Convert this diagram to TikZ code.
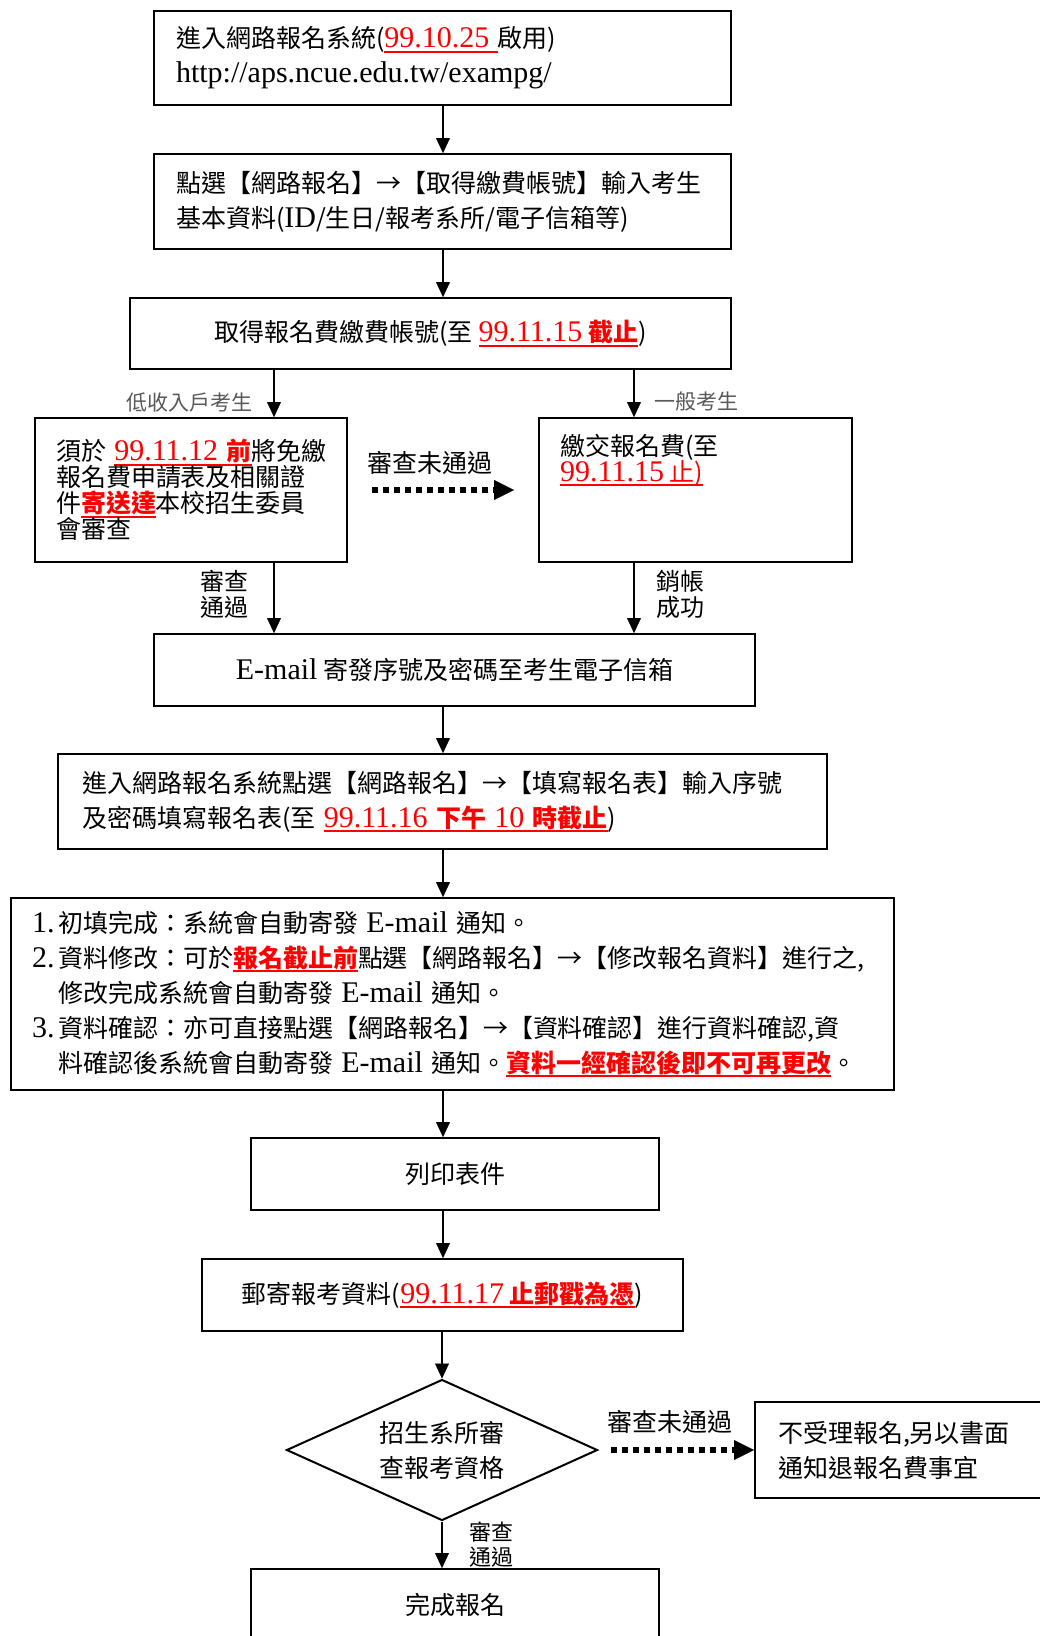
\documentclass[tikz,border=0pt]{standalone}
\usepackage{fontspec}
\setmainfont{Noto Sans CJK TC}
\newfontfamily\latf{Liberation Serif}[Scale=1.2]
\usetikzlibrary{arrows.meta,shapes.geometric}
\newcommand\lat[1]{{\latf #1}}
\newcommand\redul[1]{{\color{red}\setbox0=\hbox{#1}\rlap{\rule[-5pt]{\wd0}{2pt}}\box0}}
\DeclareRobustCommand\tightfont{\fontsize{25}{26}\selectfont\lineskiplimit=-20pt\relax\lineskip=0pt\relax}
\begin{document}
\begin{tikzpicture}[x=1pt,y=-1pt,
  every node/.style={font=\fontsize{25}{35}\selectfont, inner sep=0pt},
  box/.style={draw, line width=2pt, fill=white, anchor=north west},
  lbox/.style={box, align=left},
  cbox/.style={box, align=center},
  arr/.style={-{Triangle[length=15pt,width=14pt,line width=0.1pt]}, line width=2pt},
  darr/.style={-{Triangle[length=20pt,width=20pt,line width=0.1pt]}, line width=6pt, dash pattern=on 6pt off 5pt},
  graylab/.style={font=\fontsize{21}{24}\selectfont, text=black!65},
  sidelab/.style={font=\fontsize{24}{26}\selectfont, align=center},
  tight/.style={font=\tightfont}
]
\useasboundingbox (0,0) rectangle (1040,1636);
\fill[white] (0,0) rectangle (1040,1636);
\coordinate (sp) at (443,0);
\coordinate (lx) at (274,0);
\coordinate (rx) at (634,0);

% boxes
\node[lbox, minimum width=577pt, minimum height=94pt, text width=533pt, inner xsep=22pt] (b1) at (153,10)
 {進入網路報名系統(\redul{\lat{99.10.25\ }}啟用)\\\lat{http://aps.ncue.edu.tw/exampg/}};
\node[lbox, minimum width=577pt, minimum height=95pt, text width=533pt, inner xsep=22pt] (b2) at (153,153)
 {點選【網路報名】→【取得繳費帳號】輸入考生\\基本資料(\lat{ID}/生日/報考系所/電子信箱等)};
\node[cbox, minimum width=601pt, minimum height=71pt] (b3) at (129,297)
 {取得報名費繳費帳號(至 \redul{\lat{99.11.15} \textbf{截止}})};
\node[lbox, tight, minimum width=312pt, minimum height=144pt, text width=270pt, inner xsep=21pt] (lb) at (34,417)
 {\mbox{須於 \redul{\lat{99.11.12} \textbf{前}}將免繳}\\報名費申請表及相關證\\件\redul{\textbf{寄送達}}本校招生委員\\會審查};
\node[box, minimum width=313pt, minimum height=144pt] (rb) at (538,417) {};
\node[tight, anchor=north west, align=left] (rbt) at (560,434)
 {繳交報名費(至\\\redul{\lat{99.11.15} 止)}};
\node[cbox, minimum width=601pt, minimum height=72pt] (em) at (153,633)
 {\lat{E-mail} 寄發序號及密碼至考生電子信箱};
\node[lbox, minimum width=769pt, minimum height=95pt, text width=721pt, inner xsep=24pt] (b4) at (57,753)
 {進入網路報名系統點選【網路報名】→【填寫報名表】輸入序號\\及密碼填寫報名表(至 \redul{\lat{99.11.16} \textbf{下午} \lat{10} \textbf{時截止}})};
\node[lbox, minimum width=883pt, minimum height=192pt, text width=841pt, inner xsep=21pt] (bb) at (10,897)
 {\makebox[26pt][l]{\lat{1.}}初填完成：系統會自動寄發 \lat{E-mail} 通知。\\
  \makebox[26pt][l]{\lat{2.}}資料修改：可於\redul{\textbf{報名截止前}}點選【網路報名】→【修改報名資料】進行之,\\
  \hspace*{26pt}修改完成系統會自動寄發 \lat{E-mail} 通知。\\
  \makebox[26pt][l]{\lat{3.}}資料確認：亦可直接點選【網路報名】→【資料確認】進行資料確認,資\\
  \hspace*{26pt}料確認後系統會自動寄發 \lat{E-mail} 通知。\redul{\textbf{資料一經確認後即不可再更改}}。};
\node[cbox, minimum width=408pt, minimum height=72pt] (pr) at (250,1137) {列印表件};
\node[cbox, minimum width=481pt, minimum height=72pt] (ml) at (201,1258)
 {郵寄報考資料(\redul{\lat{99.11.17} \textbf{止郵戳為憑}})};
\node[draw, line width=2pt, fill=white, diamond, aspect=2.2, minimum width=311pt, minimum height=141pt, align=center] (dm) at (442,1450)
 {招生系所審\\查報考資格};
\node[lbox, minimum width=320pt, minimum height=96pt, text width=274pt, inner xsep=23pt] (rj) at (754,1401)
 {不受理報名,另以書面\\通知退報名費事宜};
\node[cbox, minimum width=408pt, minimum height=72pt] (fin) at (250,1568) {完成報名};

% connectors
\draw[arr] (b1.south -| sp) -- (b2.north -| sp);
\draw[arr] (b2.south -| sp) -- (b3.north -| sp);
\draw[arr] (b3.south -| lx) -- (lb.north -| lx);
\draw[arr] (b3.south -| rx) -- (rb.north -| rx);
\draw[arr] (lb.south -| lx) -- (em.north -| lx);
\draw[arr] (rb.south -| rx) -- (em.north -| rx);
\draw[arr] (em.south -| sp) -- (b4.north -| sp);
\draw[arr] (b4.south -| sp) -- (bb.north -| sp);
\draw[arr] (bb.south -| sp) -- (pr.north -| sp);
\draw[arr] (pr.south -| sp) -- (ml.north -| sp);
\draw[arr] (ml.south -| dm.north) -- (dm.north);
\draw[arr] (dm.south) -- (fin.north -| dm.south);
\draw[darr, shorten <=24pt, shorten >=24pt] (lb.east) -- (rb.west);
\draw[darr, shorten <=12pt] (dm.east) -- (rj.west |- dm.east);

% labels
\node[graylab] (l1) at (189,402) {低收入戶考生};
\node[graylab] (l2) at (696,402) {一般考生};
\node[sidelab] (l3) at (224,594) {審查\\通過};
\node[sidelab] (l4) at (680,594) {銷帳\\成功};
\node (l5) at (430,463) {審查未通過};
\node (l6) at (670,1422) {審查未通過};
\node[sidelab, font=\fontsize{22}{25}\selectfont] (l7) at (491,1545) {審查\\通過};
\end{tikzpicture}
\end{document}
